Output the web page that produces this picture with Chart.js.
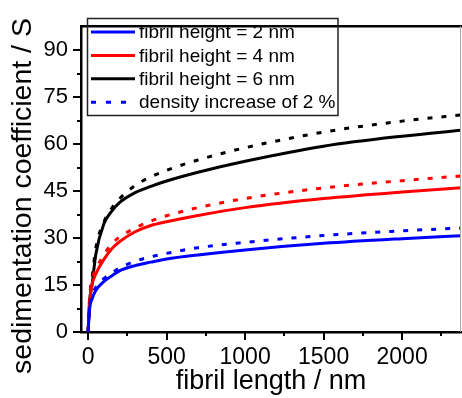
<!DOCTYPE html>
<html>
<head>
<meta charset="utf-8">
<script src="https://cdn.jsdelivr.net/npm/chart.js@4/dist/chart.umd.min.js"></script>
<style>
  html, body { margin: 0; padding: 0; background: #fff; overflow: hidden; }
  #wrap { width: 462px; height: 398px; position: relative; }
</style>
</head>
<body>
<div id="wrap"><canvas id="sedChart"></canvas></div>
<script>
// fibril length (nm) where curves were read
const lengths = [0, 10, 25, 50, 100, 150, 200, 300, 400, 500, 700, 1000, 1500, 2000, 2400];

// sedimentation coefficient (S)
const h2 = [0, 7.5, 10.5, 13.3, 16.1, 17.9, 19.5, 21.2, 22.3, 23.3, 24.6, 26.2, 28.3, 29.8, 30.8];
const h2dense = [0, 8.0, 11.5, 14.3, 17.0, 18.8, 20.4, 22.6, 24.0, 25.1, 26.9, 28.6, 30.8, 32.3, 33.2];
const h4 = [0, 9.5, 15.0, 18.6, 23.1, 26.5, 28.8, 32.0, 34.0, 35.2, 37.2, 39.7, 42.6, 44.7, 46.1];
const h4dense = [0, 10.5, 16.5, 20.0, 24.6, 28.1, 30.3, 33.2, 35.4, 37.1, 39.7, 42.6, 46.0, 48.3, 49.9];
const h6 = [0, 10.0, 15.0, 25.0, 34.5, 38.5, 41.3, 44.5, 46.5, 48.2, 51.0, 54.5, 59.3, 62.5, 64.5];
const h6dense = [0, 11.0, 17.0, 27.0, 35.0, 39.5, 42.5, 46.8, 49.5, 51.6, 54.9, 58.8, 63.8, 67.3, 69.4];

const xTicks = [0, 500, 1000, 1500, 2000];
const xMinor = [250, 750, 1250, 1750, 2250];
const yTicks = [0, 15, 30, 45, 60, 75, 90];
const yMinor = [7.5, 22.5, 37.5, 52.5, 67.5, 82.5];

const yTitle = 'sedimentation coefficient / S';
const legendItems = [
    { label: 'fibril height = 2 nm', color: '#0000ff', dash: [] },
    { label: 'fibril height = 4 nm', color: '#ff0000', dash: [] },
    { label: 'fibril height = 6 nm', color: '#000000', dash: [] },
    { label: 'density increase of 2 %', color: '#0000ff', dash: [5, 10] }
];

const toPoints = (ys) => lengths.map((x, i) => ({ x: x, y: ys[i] }));

function series(ys, color, dashed) {
    return {
        data: toPoints(ys),
        borderColor: color,
        borderWidth: 3,
        borderDash: dashed ? [5, 9] : [],
        pointRadius: 0,
        fill: false,
        cubicInterpolationMode: 'monotone'
    };
}

// ticks, frame, y title and the boxed legend
const decorations = {
    id: 'decorations',
    afterDraw(chart) {
        const ctx = chart.ctx;
        const area = chart.chartArea;
        const xs = chart.scales.x;
        const ys = chart.scales.y;
        ctx.save();
        ctx.strokeStyle = '#000';
        ctx.lineWidth = 2;
        xTicks.forEach(v => {
            const px = Math.round(xs.getPixelForValue(v));
            ctx.beginPath(); ctx.moveTo(px, area.bottom); ctx.lineTo(px, area.bottom + 8); ctx.stroke();
        });
        xMinor.forEach(v => {
            const px = Math.round(xs.getPixelForValue(v));
            ctx.beginPath(); ctx.moveTo(px, area.bottom); ctx.lineTo(px, area.bottom + 4); ctx.stroke();
        });
        yTicks.forEach(v => {
            const py = Math.round(ys.getPixelForValue(v));
            ctx.beginPath(); ctx.moveTo(area.left, py); ctx.lineTo(area.left - 8, py); ctx.stroke();
        });
        yMinor.forEach(v => {
            const py = Math.round(ys.getPixelForValue(v));
            ctx.beginPath(); ctx.moveTo(area.left, py); ctx.lineTo(area.left - 4, py); ctx.stroke();
        });

        // top frame
        ctx.lineWidth = 2.5;
        ctx.beginPath(); ctx.moveTo(area.left - 1, area.top); ctx.lineTo(462, area.top); ctx.stroke();
        // faint right edge
        ctx.strokeStyle = '#aaa';
        ctx.lineWidth = 1;
        ctx.beginPath(); ctx.moveTo(460.5, area.top); ctx.lineTo(460.5, area.bottom); ctx.stroke();

        // y title, sits a bit lower than the axis centre
        ctx.save();
        ctx.translate(23, 196);
        ctx.rotate(-Math.PI / 2);
        ctx.font = '28.5px "Liberation Sans", Arial, sans-serif';
        ctx.textAlign = 'center';
        ctx.textBaseline = 'middle';
        ctx.fillStyle = '#000';
        ctx.fillText(yTitle, 0, 0);
        ctx.restore();

        // legend box
        ctx.strokeStyle = '#222';
        ctx.lineWidth = 1.5;
        ctx.strokeRect(87.5, 18.5, 250.5, 97);
        ctx.font = '19px "Liberation Sans", Arial, sans-serif';
        ctx.textBaseline = 'middle';
        ctx.fillStyle = '#000';
        legendItems.forEach((item, i) => {
            const y = 32 + i * 23.4;
            ctx.strokeStyle = item.color;
            ctx.lineWidth = 3;
            ctx.setLineDash(item.dash);
            ctx.beginPath(); ctx.moveTo(91, y); ctx.lineTo(135, y); ctx.stroke();
            ctx.setLineDash([]);
            ctx.fillText(item.label, 139, y + 1);
        });
        ctx.restore();
    }
};

const ctx = document.getElementById('sedChart').getContext('2d');
const sedChart = new Chart(ctx, {
    type: 'line',
    data: {
        datasets: [
            series(h2dense, '#0000ff', true),
            series(h4dense, '#ff0000', true),
            series(h6dense, '#000000', true),
            series(h2, '#0000ff', false),
            series(h4, '#ff0000', false),
            series(h6, '#000000', false)
        ]
    },
    options: {
        responsive: true,
        maintainAspectRatio: false,
        animation: false,
        layout: { padding: { top: 13, right: 1, left: 0, bottom: 0 } },
        plugins: {
            legend: { display: false },
            tooltip: { enabled: false }
        },
        scales: {
            x: {
                type: 'linear',
                min: -45,
                max: 2375,
                afterBuildTicks: (scale) => { scale.ticks = xTicks.map(v => ({ value: v })); },
                afterFit: (scale) => { scale.height = 66; },
                grid: { display: false, drawTicks: false },
                border: { display: true, color: '#000', width: 2.5 },
                ticks: {
                    padding: 12,
                    color: '#000',
                    maxRotation: 0,
                    callback: (v) => String(v),
                    font: { family: '"Liberation Sans", Arial, sans-serif', size: 23 }
                },
                title: {
                    display: true,
                    text: 'fibril length / nm',
                    color: '#000',
                    padding: { top: 0, bottom: 3 },
                    font: { family: '"Liberation Sans", Arial, sans-serif', size: 27, lineHeight: 1 }
                }
            },
            y: {
                min: 0,
                max: 97.6,
                afterBuildTicks: (scale) => { scale.ticks = yTicks.map(v => ({ value: v })); },
                afterFit: (scale) => { scale.width = 81; },
                grid: { display: false, drawTicks: false },
                border: { display: true, color: '#000', width: 2.5 },
                ticks: {
                    padding: 13,
                    color: '#000',
                    callback: (v) => String(v),
                    font: { family: '"Liberation Sans", Arial, sans-serif', size: 22 }
                },
                title: { display: false }
            }
        }
    },
    plugins: [decorations]
});
</script>
</body>
</html>
